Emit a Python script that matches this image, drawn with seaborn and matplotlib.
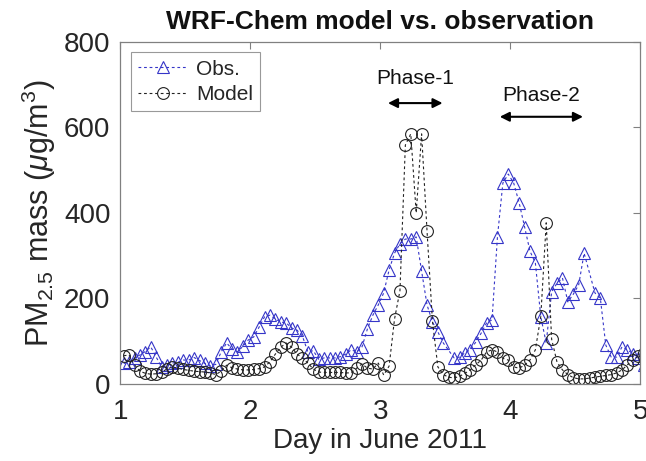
import numpy as np
import pandas as pd
import matplotlib
matplotlib.use("Agg")
import matplotlib.pyplot as plt
import seaborn as sns
from matplotlib.font_manager import fontManager

# ---------------- data (hourly) ----------------
hour_index = np.arange(97)
day = 1 + (hour_index + 0.65) / 24.0

obs = [48, 51, 61, 68, 76, 87, 63, 40, 44, 49, 51, 56, 56, 62, 55, 48, 42, 46,
       75, 96, 82, 75, 88, 103, 110, 133, 157, 161, 152, 145, 143, 131, 126, 112,
       75, 78, 58, 61, 61, 61, 64, 70, 80, 75, 87, 129, 161, 185, 213, 267, 306,
       328, 339, 339, 344, 264, 185, 145, 122, 96, np.nan, 61, 63, 73, 80, 98, 119,
       143, 150, 344, 470, 491, 470, 424, 368, 311, 283, 157, 96, 215, 236, 248,
       192, 210, 232, 306, np.nan, 213, 200, 91, 63, 63, 87, 80, 71, 61, 44]

model = [66, 68, 45, 30, 25, 23, 24, 28, 35, 40, 37, 34, 32, 30, 29, 28, 26, 22,
         30, 44, 38, 35, 33, 33, 34, 36, 40, 52, 70, 86, 96, 86, 70, 61, 49, 35,
         28, 27, 27, 27, 27, 26, 26, 37, 47, 37, 35, 49, 21, 42, 152, 218, 559,
         585, 400, 585, 358, 147, 40, 22, 16, 14, 18, 25, 33, 45, 56, 75, 80, 75,
         60, 56, 40, 37, 44, 56, 80, 158, 377, 105, 51, 33, 22, 15, 12, 12, 14, 16,
         18, 20, 22, 26, 33, 45, 56, 65, 72]

series_names = ["Obs.", "Model"]
x_ticks = [1, 2, 3, 4, 5]
y_ticks = [0, 200, 400, 600, 800]
phase_labels = ["Phase-1", "Phase-2"]
phase_spans = [(3.06, 3.48), (3.92, 4.56)]
phase_arrow_y = [657, 625]
phase_text_y = [714, 674]

# ---------------- style ----------------
sns.set_style("white")
avail = {f.name for f in fontManager.ttflist}
fam = [f for f in ["Liberation Sans Narrow", "Liberation Sans", "DejaVu Sans"] if f in avail]
plt.rcParams["font.family"] = fam
plt.rcParams["mathtext.fontset"] = "custom"
plt.rcParams["mathtext.rm"] = fam[0]
plt.rcParams["mathtext.it"] = fam[0] + ":italic"

fig = plt.figure(figsize=(6.46, 4.61), dpi=100)
ax = fig.add_axes([0.186, 0.167, 0.805, 0.742])

df_obs = pd.DataFrame({"day": day, "val": obs}).dropna()
df_mod = pd.DataFrame({"day": day, "val": model}).dropna()

obs_color = "#3535c8"
mod_color = "#222222"
sns.lineplot(data=df_obs, x="day", y="val", ax=ax, color=obs_color,
             linestyle=(0, (2.5, 2.5)), linewidth=0.8, marker="^",
             markersize=8.5, markerfacecolor="none", markeredgecolor=obs_color,
             markeredgewidth=0.8, label=series_names[0], estimator=None,
             sort=False)
sns.lineplot(data=df_mod, x="day", y="val", ax=ax, color=mod_color,
             linestyle=(0, (2.5, 2.5)), linewidth=0.8, marker="o",
             markersize=8.5, markerfacecolor="none", markeredgecolor=mod_color,
             markeredgewidth=0.8, label=series_names[1], estimator=None,
             sort=False)

ax.set_xlim(1, 5)
ax.set_ylim(0, 800)
ax.set_xticks(x_ticks)
ax.set_yticks(y_ticks)
ax.set_xticklabels([str(t) for t in x_ticks])
ax.set_yticklabels([str(t) for t in y_ticks])
ax.tick_params(direction="in", length=5, width=0.8, colors="#808080",
               labelcolor="#262626", labelsize=20, top=True, right=True)
ax.tick_params(axis="x", pad=11)
ax.tick_params(axis="y", pad=7)
for s in ax.spines.values():
    s.set_visible(True)
    s.set_color("#808080")
    s.set_linewidth(0.9)

ax.set_xlabel("Day in June 2011", fontsize=20, color="#262626", labelpad=2)
ax.set_ylabel(r"PM$_{2.5}$ mass ($\mu$g/m$^3$)", fontsize=22, color="#262626",
              labelpad=4)
ax.set_title("WRF-Chem model vs. observation", fontsize=19, fontweight="bold",
             color="#111111", pad=9)

for lab, (x0, x1), ya, yt in zip(phase_labels, phase_spans, phase_arrow_y, phase_text_y):
    ax.annotate("", xy=(x0, ya), xytext=(x1, ya),
                arrowprops=dict(arrowstyle="<|-|>", color="black", lw=1.5,
                                mutation_scale=14, shrinkA=0, shrinkB=0))
    ax.text((x0 + x1) / 2, yt, lab, ha="center", va="center", fontsize=15,
            color="#111111")

leg = ax.legend(loc="upper left", fontsize=15, frameon=True, fancybox=False,
                edgecolor="#808080", handlelength=2.4, handletextpad=0.4,
                borderpad=0.35, labelspacing=0.3, borderaxespad=0.5)
leg.get_frame().set_linewidth(0.8)

fig.savefig("out.png", dpi=100)
